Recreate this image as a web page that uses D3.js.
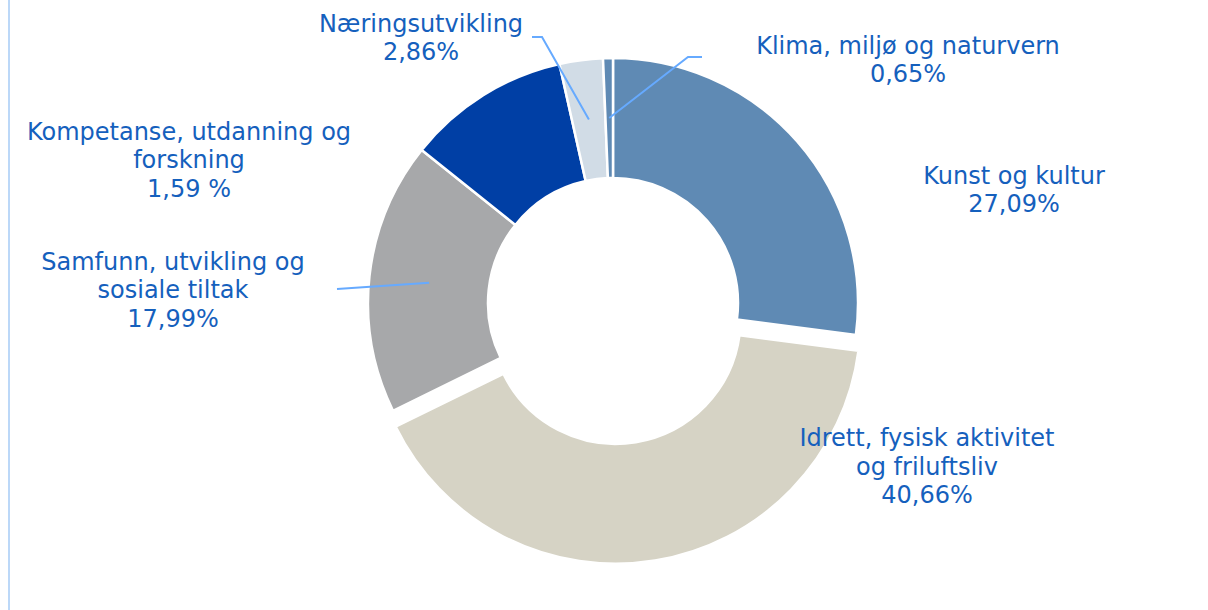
<!DOCTYPE html>
<html>
<head>
<meta charset="utf-8">
<script src="https://cdn.jsdelivr.net/npm/d3@7"></script>
<style>
  body { margin: 0; background: #fff; }
  svg { display: block; }
  .lbl { font-family: "DejaVu Sans", Verdana, sans-serif; font-size: 24px; fill: #1560bd; }
</style>
</head>
<body>
<div id="chart"></div>
<script>
// slice order, clockwise from 12 o'clock
const categories = ["Kunst og kultur", "Idrett, fysisk aktivitet og friluftsliv", "Samfunn, utvikling og sosiale tiltak",
                    "Kompetanse, utdanning og forskning", "Næringsutvikling", "Klima, miljø og naturvern"];
// slice sizes as drawn (%), the Kompetanse slice is drawn much larger than its printed label
const values = [27.09, 40.66, 17.99, 10.75, 2.86, 0.65];
const colors = ["#5f8ab4", "#d6d3c5", "#a7a8aa", "#003fa5", "#d1dce6", "#5f8ab4"];
// label text lines, as printed in the chart
const labelLines = [
    ["Kunst og kultur", "27,09%"],
    ["Idrett, fysisk aktivitet", "og friluftsliv", "40,66%"],
    ["Samfunn, utvikling og", "sosiale tiltak", "17,99%"],
    ["Kompetanse, utdanning og", "forskning", "1,59 %"],
    ["Næringsutvikling", "2,86%"],
    ["Klima, miljø og naturvern", "0,65%"]
];
const exploded = [0, 16, 0, 0, 0, 0];

const W = 1208, H = 610;
const cx = 613, cy = 303;
const outerR = 245, innerR = 125;

// label anchor (centre x, first baseline) and where the leader line starts (null = no leader)
const labelPos = [
    {x: 1014, y: 183.5, lead: null},
    {x: 927, y: 446, lead: null},
    {x: 173, y: 269.5, lead: [[337, 289]]},
    {x: 189, y: 139.5, lead: null},
    {x: 421, y: 31.5, lead: [[532, 37], [542, 37]]},
    {x: 908, y: 53.5, lead: [[702, 57], [688, 57]]}
];

const svg = d3.select("#chart").append("svg")
    .attr("width", W)
    .attr("height", H);

// thin rule down the left side
svg.append("line")
    .attr("x1", 9).attr("x2", 9)
    .attr("y1", 0).attr("y2", H)
    .attr("stroke", "#bcd8f8")
    .attr("stroke-width", 2);

const pie = d3.pie().sort(null).value(d => d)(values);

const arc = d3.arc()
    .innerRadius(innerR)
    .outerRadius(outerR);

const midArc = d3.arc()
    .innerRadius(185)
    .outerRadius(185);

const g = svg.append("g")
    .attr("transform", "translate(" + cx + "," + cy + ")");

g.selectAll("path.slice")
    .data(pie)
    .enter()
    .append("path")
    .attr("class", "slice")
    .attr("d", arc)
    .attr("fill", (d, i) => colors[i])
    .attr("stroke", "#fff")
    .attr("stroke-width", 2.5)
    .attr("transform", (d, i) => {
        const a = (d.startAngle + d.endAngle) / 2;
        return "translate(" + (Math.sin(a) * exploded[i]) + "," + (-Math.cos(a) * exploded[i]) + ")";
    });

// leader lines
const line = d3.line();
pie.forEach((d, i) => {
    const p = labelPos[i];
    if (!p.lead) return;
    const c = midArc.centroid(d);
    const pts = p.lead.concat([[c[0] + cx, c[1] + cy]]);
    svg.append("path")
        .attr("d", line(pts))
        .attr("fill", "none")
        .attr("stroke", "#66aaff")
        .attr("stroke-width", 2);
});

// labels
labelLines.forEach((lines, i) => {
    const p = labelPos[i];
    const t = svg.append("text")
        .attr("class", "lbl")
        .attr("text-anchor", "middle");
    lines.forEach((s, k) => {
        t.append("tspan")
            .attr("x", p.x)
            .attr("y", p.y + k * 28.7)
            .text(s);
    });
});
</script>
</body>
</html>
